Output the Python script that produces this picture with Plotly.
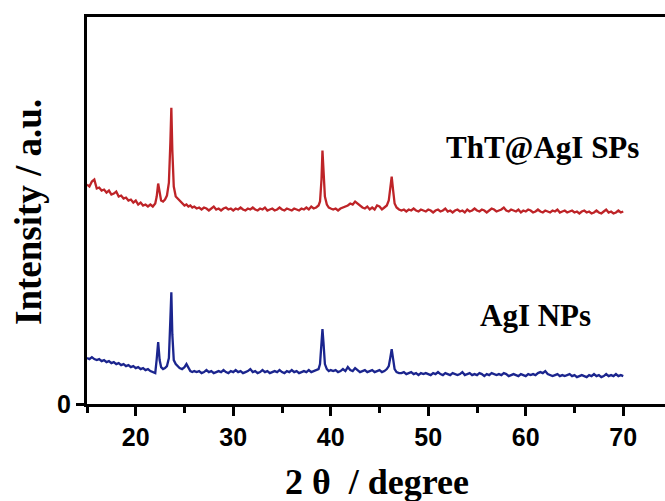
import plotly.graph_objects as go

# 2-theta sampling positions (degrees)
two_theta = [
    15.0, 15.25, 15.5, 15.75, 16.0, 16.25, 16.5, 16.75, 17.0, 17.25,
    17.5, 17.75, 18.0, 18.25, 18.5, 18.75, 19.0, 19.25, 19.5, 19.75,
    20.0, 20.25, 20.5, 20.75, 21.0, 21.25, 21.5, 21.75, 22.0,
    22.15, 22.3, 22.45, 22.6, 22.8, 23.0, 23.2, 23.4, 23.55, 23.65,
    23.75, 23.9, 24.1, 24.3, 24.5, 24.75, 25.0, 25.2, 25.4, 25.6, 25.8, 26.0,
    26.25, 26.5, 26.75, 27.0, 27.25, 27.5, 27.75, 28.0, 28.25, 28.5,
    28.75, 29.0, 29.25, 29.5, 29.75, 30.0, 30.25, 30.5, 30.75, 31.0,
    31.25, 31.5, 31.75, 32.0, 32.25, 32.5, 32.75, 33.0, 33.25, 33.5,
    33.75, 34.0, 34.25, 34.5, 34.75, 35.0, 35.25, 35.5, 35.75, 36.0,
    36.25, 36.5, 36.75, 37.0, 37.25, 37.5, 37.75, 38.0, 38.25, 38.5,
    38.75,
    38.9, 39.05, 39.15, 39.25, 39.4, 39.6, 39.8, 40.0,
    40.25, 40.5, 40.75, 41.0, 41.25, 41.5, 41.75, 42.0, 42.25, 42.5,
    42.75, 43.0, 43.25, 43.5, 43.75, 44.0, 44.25, 44.5, 44.75, 45.0,
    45.25, 45.5, 45.75,
    45.95, 46.1, 46.25, 46.4, 46.55, 46.75, 47.0,
    47.25, 47.5, 47.75, 48.0, 48.25, 48.5, 48.75, 49.0, 49.25, 49.5,
    49.75, 50.0, 50.25, 50.5, 50.75, 51.0, 51.25, 51.5, 51.75, 52.0,
    52.25, 52.5, 52.75, 53.0, 53.25, 53.5, 53.75, 54.0, 54.25, 54.5,
    54.75, 55.0, 55.25, 55.5, 55.75, 56.0, 56.25, 56.5, 56.75, 57.0,
    57.25, 57.5, 57.75, 58.0, 58.25, 58.5, 58.75, 59.0, 59.25, 59.5,
    59.75, 60.0, 60.25, 60.5, 60.75, 61.0, 61.25, 61.5, 61.75, 62.0,
    62.25, 62.5, 62.75, 63.0, 63.25, 63.5, 63.75, 64.0, 64.25, 64.5,
    64.75, 65.0, 65.25, 65.5, 65.75, 66.0, 66.25, 66.5, 66.75, 67.0,
    67.25, 67.5, 67.75, 68.0, 68.25, 68.5, 68.75, 69.0, 69.25, 69.5,
    69.75, 70.0,
]

# ThT@AgI SPs intensity (a.u., offset)
tht_agi_sps = [
    220, 218, 223, 225, 216, 217, 214, 215, 212, 214,
    210, 211, 213, 208, 209, 206, 207, 204, 205, 202,
    204, 200, 202, 199, 200, 198, 200, 198, 201,
    208, 221, 210, 204, 203, 205, 209, 222, 262, 297,
    255, 218, 208, 206, 203, 201, 199, 200, 198, 199, 197, 198,
    196, 197, 195, 197, 196, 194, 196, 198, 195, 196,
    194, 196, 197, 195, 196, 194, 196, 195, 197, 195,
    194, 196, 195, 197, 195, 194, 196, 195, 197, 194,
    195, 196, 194, 195, 197, 195, 194, 196, 195, 194,
    196, 195, 194, 196, 195, 197, 195, 198, 196, 197,
    199,
    203, 225, 254, 236, 208, 200, 197, 196,
    195, 196, 194, 196, 197, 198, 199, 201, 200, 203,
    201, 199, 197, 196, 198, 195, 197, 195, 199, 198,
    195, 197, 199,
    204, 215, 228, 214, 201, 197, 195,
    194, 195, 193, 195, 194, 196, 194, 193, 195, 194,
    193, 195, 194, 192, 194, 195, 193, 194, 196, 193,
    194, 192, 194, 195, 193, 194, 192, 195, 193, 194,
    196, 194, 193, 195, 194, 192, 194, 196, 195, 193,
    194, 195, 197, 194, 193, 195, 194, 193, 195, 192,
    194, 193, 195, 194, 192, 193, 195, 193, 192, 194,
    193, 192, 194, 193, 195, 192, 193, 194, 192, 193,
    194, 192, 193, 191, 193, 194, 192, 193, 191, 192,
    194, 192, 191, 193, 195, 192, 193, 191, 192, 194,
    192, 193,
]

# AgI NPs intensity (a.u., offset)
agi_nps = [
    46, 45, 47, 45, 44, 45, 43, 44, 42, 43,
    41, 42, 40, 41, 39, 40, 38, 39, 37, 38,
    36, 37, 35, 36, 34, 35, 33, 32, 31,
    45, 62, 44, 37, 35, 36, 38, 46, 85, 112,
    70, 44, 40, 38, 36, 35, 37, 40, 36, 33, 32, 33,
    32, 33, 31, 32, 34, 32, 33, 31, 32, 33,
    32, 34, 32, 31, 33, 32, 34, 32, 33, 31,
    32, 33, 35, 32, 33, 31, 32, 34, 32, 33,
    31, 32, 33, 32, 34, 32, 31, 33, 32, 34,
    32, 33, 31, 32, 33, 32, 34, 32, 33, 34,
    35,
    40, 58, 75, 62, 40, 35, 33, 34,
    33, 34, 32, 33, 35, 33, 37, 34, 33, 36,
    34, 32, 33, 34, 32, 33, 34, 32, 33, 34,
    32, 33, 35,
    38, 46, 55, 45, 35, 32, 31,
    31, 32, 30, 31, 32, 30, 31, 29, 31, 30,
    31, 30, 29, 31, 30, 32, 30, 29, 31, 30,
    29, 31, 30, 29, 30, 32, 29, 30, 31, 29,
    30, 29, 31, 30, 28, 30, 29, 31, 30, 29,
    30, 29, 31, 30, 28, 29, 30, 29, 28, 30,
    29, 28, 30, 29, 30, 29, 31, 32, 31, 33,
    30, 29, 28, 29, 30, 28, 29, 28, 29, 30,
    28, 29, 27, 28, 29, 28, 27, 29, 28, 30,
    28, 29, 27, 28, 30, 28, 29, 28, 30, 28,
    29, 28,
]

x_ticks = [20, 30, 40, 50, 60, 70]
series_names = ["ThT@AgI SPs", "AgI NPs"]

assert len(two_theta) == len(tht_agi_sps) == len(agi_nps), (
    len(two_theta), len(tht_agi_sps), len(agi_nps))

RED = "#BE2428"
BLUE = "#1B258E"
serif = "Liberation Serif"
sans = "Liberation Sans"

# the original figure continues past the right edge of the 665 px crop
L, T, B = 87, 17, 97
W, H = 685, 501
PW = W - L
PH = H - T - B
X_MAX = 15 + PW / 9.75

fig = go.Figure()
fig.add_trace(go.Scatter(x=two_theta, y=tht_agi_sps, mode="lines",
                         line=dict(color=RED, width=2.3), name=series_names[0]))
fig.add_trace(go.Scatter(x=two_theta, y=agi_nps, mode="lines",
                         line=dict(color=BLUE, width=2.3), name=series_names[1]))

fig.add_annotation(x=61.7, y=257, xref="x", yref="y", text="<b>" + series_names[0] + "</b>",
                   showarrow=False, font=dict(family=serif, size=31, color="black"))
fig.add_annotation(x=61.0, y=89, xref="x", yref="y", text="<b>" + series_names[1] + "</b>",
                   showarrow=False, font=dict(family=serif, size=31, color="black"))

# axis titles
fig.add_annotation(x=(377 - L) / PW, y=(H - B - 482) / PH, xref="paper", yref="paper",
                   xanchor="center", yanchor="middle",
                   text="<b>2 θ  / degree</b>", showarrow=False,
                   font=dict(family=serif, size=36, color="black"))
fig.add_annotation(x=(28 - L) / PW, y=(H - B - 212) / PH, xref="paper", yref="paper",
                   xanchor="center", yanchor="middle",
                   text="<b>Intensity / a.u.</b>", showarrow=False, textangle=-90,
                   font=dict(family=serif, size=37, color="black"))

fig.update_layout(
    template="none",
    width=W, height=H,
    margin=dict(l=L, r=0, t=T, b=B, pad=0),
    paper_bgcolor="white", plot_bgcolor="white",
    showlegend=False,
    xaxis=dict(
        range=[15, X_MAX], tickvals=x_ticks, ticktext=["<b>%d</b>" % v for v in x_ticks],
        ticks="outside", ticklen=9, tickwidth=2.5,
        tickcolor="black", showline=True, linewidth=3, linecolor="black", mirror=True,
        showgrid=False, zeroline=False, automargin=False,
        tickfont=dict(family=sans, size=25, color="black"),
        minor=dict(tickvals=[15, 25, 35, 45, 55, 65, 75], ticks="outside", ticklen=6,
                   tickwidth=2.5, tickcolor="black", showgrid=False),
    ),
    yaxis=dict(
        range=[0, 388], tickvals=[0], ticktext=["<b>0</b>"], ticks="outside", ticklen=8,
        tickwidth=2.5, tickcolor="black", showline=True, linewidth=3, linecolor="black",
        mirror=False, showgrid=False, zeroline=False, automargin=False,
        tickfont=dict(family=sans, size=25, color="black"),
    ),
)

fig.write_html(
    "out.html",
    config={"displayModeBar": False},
    post_script="document.body.style.margin='0px';document.documentElement.style.overflow='hidden';document.body.style.overflow='hidden';",
)
